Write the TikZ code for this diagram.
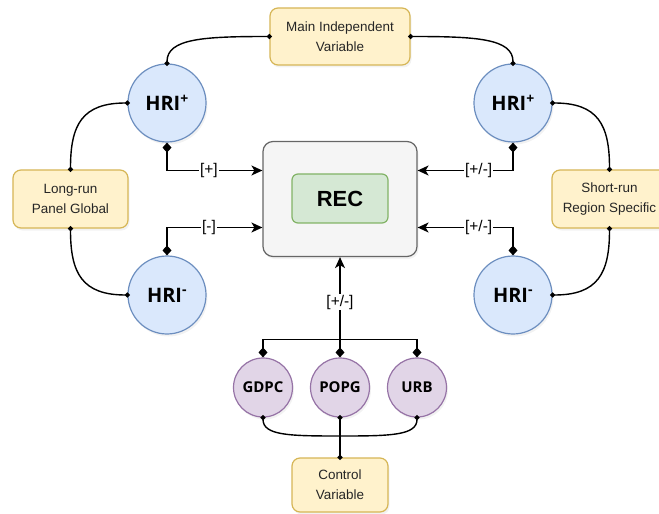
\documentclass[tikz,border=0pt]{standalone}
\usepackage{fontspec}
\setmainfont{Liberation Sans}
\newfontfamily\circfont{Open Sans}
\usepackage{tikz}
\usepackage{xcolor}
\usetikzlibrary{arrows.meta,shadows}

\definecolor{boxfill}{HTML}{FFF2CC}
\definecolor{boxline}{HTML}{D6B656}
\definecolor{hrifill}{HTML}{DAE8FC}
\definecolor{hriline}{HTML}{6C8EBF}
\definecolor{recfill}{HTML}{F5F5F5}
\definecolor{recline}{HTML}{666666}
\definecolor{innerfill}{HTML}{D5E8D4}
\definecolor{innerline}{HTML}{82B366}
\definecolor{ctrlfill}{HTML}{E1D5E7}
\definecolor{ctrlline}{HTML}{9673A6}

\tikzset{
  soft/.style={drop shadow={shadow xshift=1.5bp,shadow yshift=-2.5bp,opacity=0.10}},
  varbox/.style={rectangle,rounded corners=8bp,draw=boxline,fill=boxfill,line width=1.2bp,
    align=center,inner sep=0pt,text=black!85,font=\fontsize{13.5}{20}\selectfont,soft},
  hri/.style={circle,draw=hriline,fill=hrifill,line width=1.2bp,minimum size=78bp,inner sep=0pt,
    font=\circfont\bfseries\fontsize{20}{20}\selectfont,soft},
  ctrl/.style={circle,draw=ctrlline,fill=ctrlfill,line width=1.2bp,minimum size=59bp,inner sep=0pt,
    font=\circfont\bfseries\fontsize{15}{15}\selectfont,soft},
  lbl/.style={fill=white,inner sep=1bp,font=\fontsize{15.5}{15.5}\selectfont},
  dia/.tip={Diamond[length=10bp,width=9bp]},
  dot/.tip={Circle[length=5bp]},
  arr/.tip={Stealth[length=11bp,width=10bp,inset=3bp]},
  link/.style={line width=1.4bp,black},
  dots/.style={link,{dot}-{dot},shorten <=-2.5bp,shorten >=-2.5bp},
  diaarrow/.style={link,{dia}-{arr}}
}

\begin{document}
\begin{tikzpicture}[x=1bp,y=-1bp]
\useasboundingbox (0,0) rectangle (659,514);

\node[varbox,minimum width=140bp,minimum height=57bp] (mainvar) at (340,36.5){Main Independent\\Variable};
\node[varbox,minimum width=115bp,minimum height=58bp] (longrun) at (70.5,199){Long-run\\Panel Global};
\node[varbox,minimum width=115bp,minimum height=58bp] (shortrun) at (609.5,199){Short-run\\Region Specific};
\node[varbox,minimum width=96bp,minimum height=54bp] (control) at (340,485){Control\\Variable};

\node[hri] (hrip1) at (167,103){HRI\textsuperscript{+}};
\node[hri] (hrip2) at (513,103){HRI\textsuperscript{+}};
\node[hri] (hrim1) at (167,295){HRI\textsuperscript{-}};
\node[hri] (hrim2) at (513,295){HRI\textsuperscript{-}};

\node[rectangle,rounded corners=10bp,draw=recline,fill=recfill,line width=1.2bp,
  minimum width=154bp,minimum height=115bp,soft] (rec) at (340,199){};
\node[rectangle,rounded corners=6bp,draw=innerline,fill=innerfill,line width=1.2bp,
  minimum width=96bp,minimum height=49bp,font=\bfseries\fontsize{22}{22}\selectfont] (recin) at (340,198.5){REC};

\node[ctrl] (gdpc) at (263,387.5){GDPC};
\node[ctrl] (popg) at (340,387.5){POPG};
\node[ctrl] (urb) at (417,387.5){URB};

\coordinate (bus) at (340,339.5);
\coordinate (join) at (340,436);

\draw[dots] (mainvar.west) .. controls +(-65,0) and +(0,-25) .. (hrip1.north);
\draw[dots] (mainvar.east) .. controls +(65,0) and +(0,-25) .. (hrip2.north);
\draw[dots] (hrip1.west) .. controls +(-45,0) and +(0,-45) .. (longrun.north);
\draw[dots] (longrun.south) .. controls +(0,45) and +(-45,0) .. (hrim1.west);
\draw[dots] (hrip2.east) .. controls +(45,0) and +(0,-45) .. (shortrun.north);
\draw[dots] (shortrun.south) .. controls +(0,45) and +(45,0) .. (hrim2.east);

\draw[diaarrow] (hrip1.south) |- ([yshift=28.5bp]rec.west) node[lbl,pos=0.72]{[+]};
\draw[diaarrow] (hrim1.north) |- ([yshift=-28.5bp]rec.west) node[lbl,pos=0.72]{[-]};
\draw[diaarrow] (hrip2.south) |- ([yshift=28.5bp]rec.east) node[lbl,pos=0.68]{[+/-]};
\draw[diaarrow] (hrim2.north) |- ([yshift=-28.5bp]rec.east) node[lbl,pos=0.68]{[+/-]};
\draw[diaarrow] (popg.north) -- (rec.south) node[lbl,pos=0.55]{[+/-]};
\draw[link,{dia}-] (gdpc.north) |- (bus);
\draw[link,{dia}-] (urb.north) |- (bus);

\draw[link,{dot}-,shorten <=-2.5bp] (gdpc.south) .. controls +(0,18) and +(-50,0) .. (join);
\draw[link,{dot}-,shorten <=-2.5bp] (urb.south) .. controls +(0,18) and +(50,0) .. (join);
\draw[dots] (popg.south) -- (control.north);

\end{tikzpicture}
\end{document}
